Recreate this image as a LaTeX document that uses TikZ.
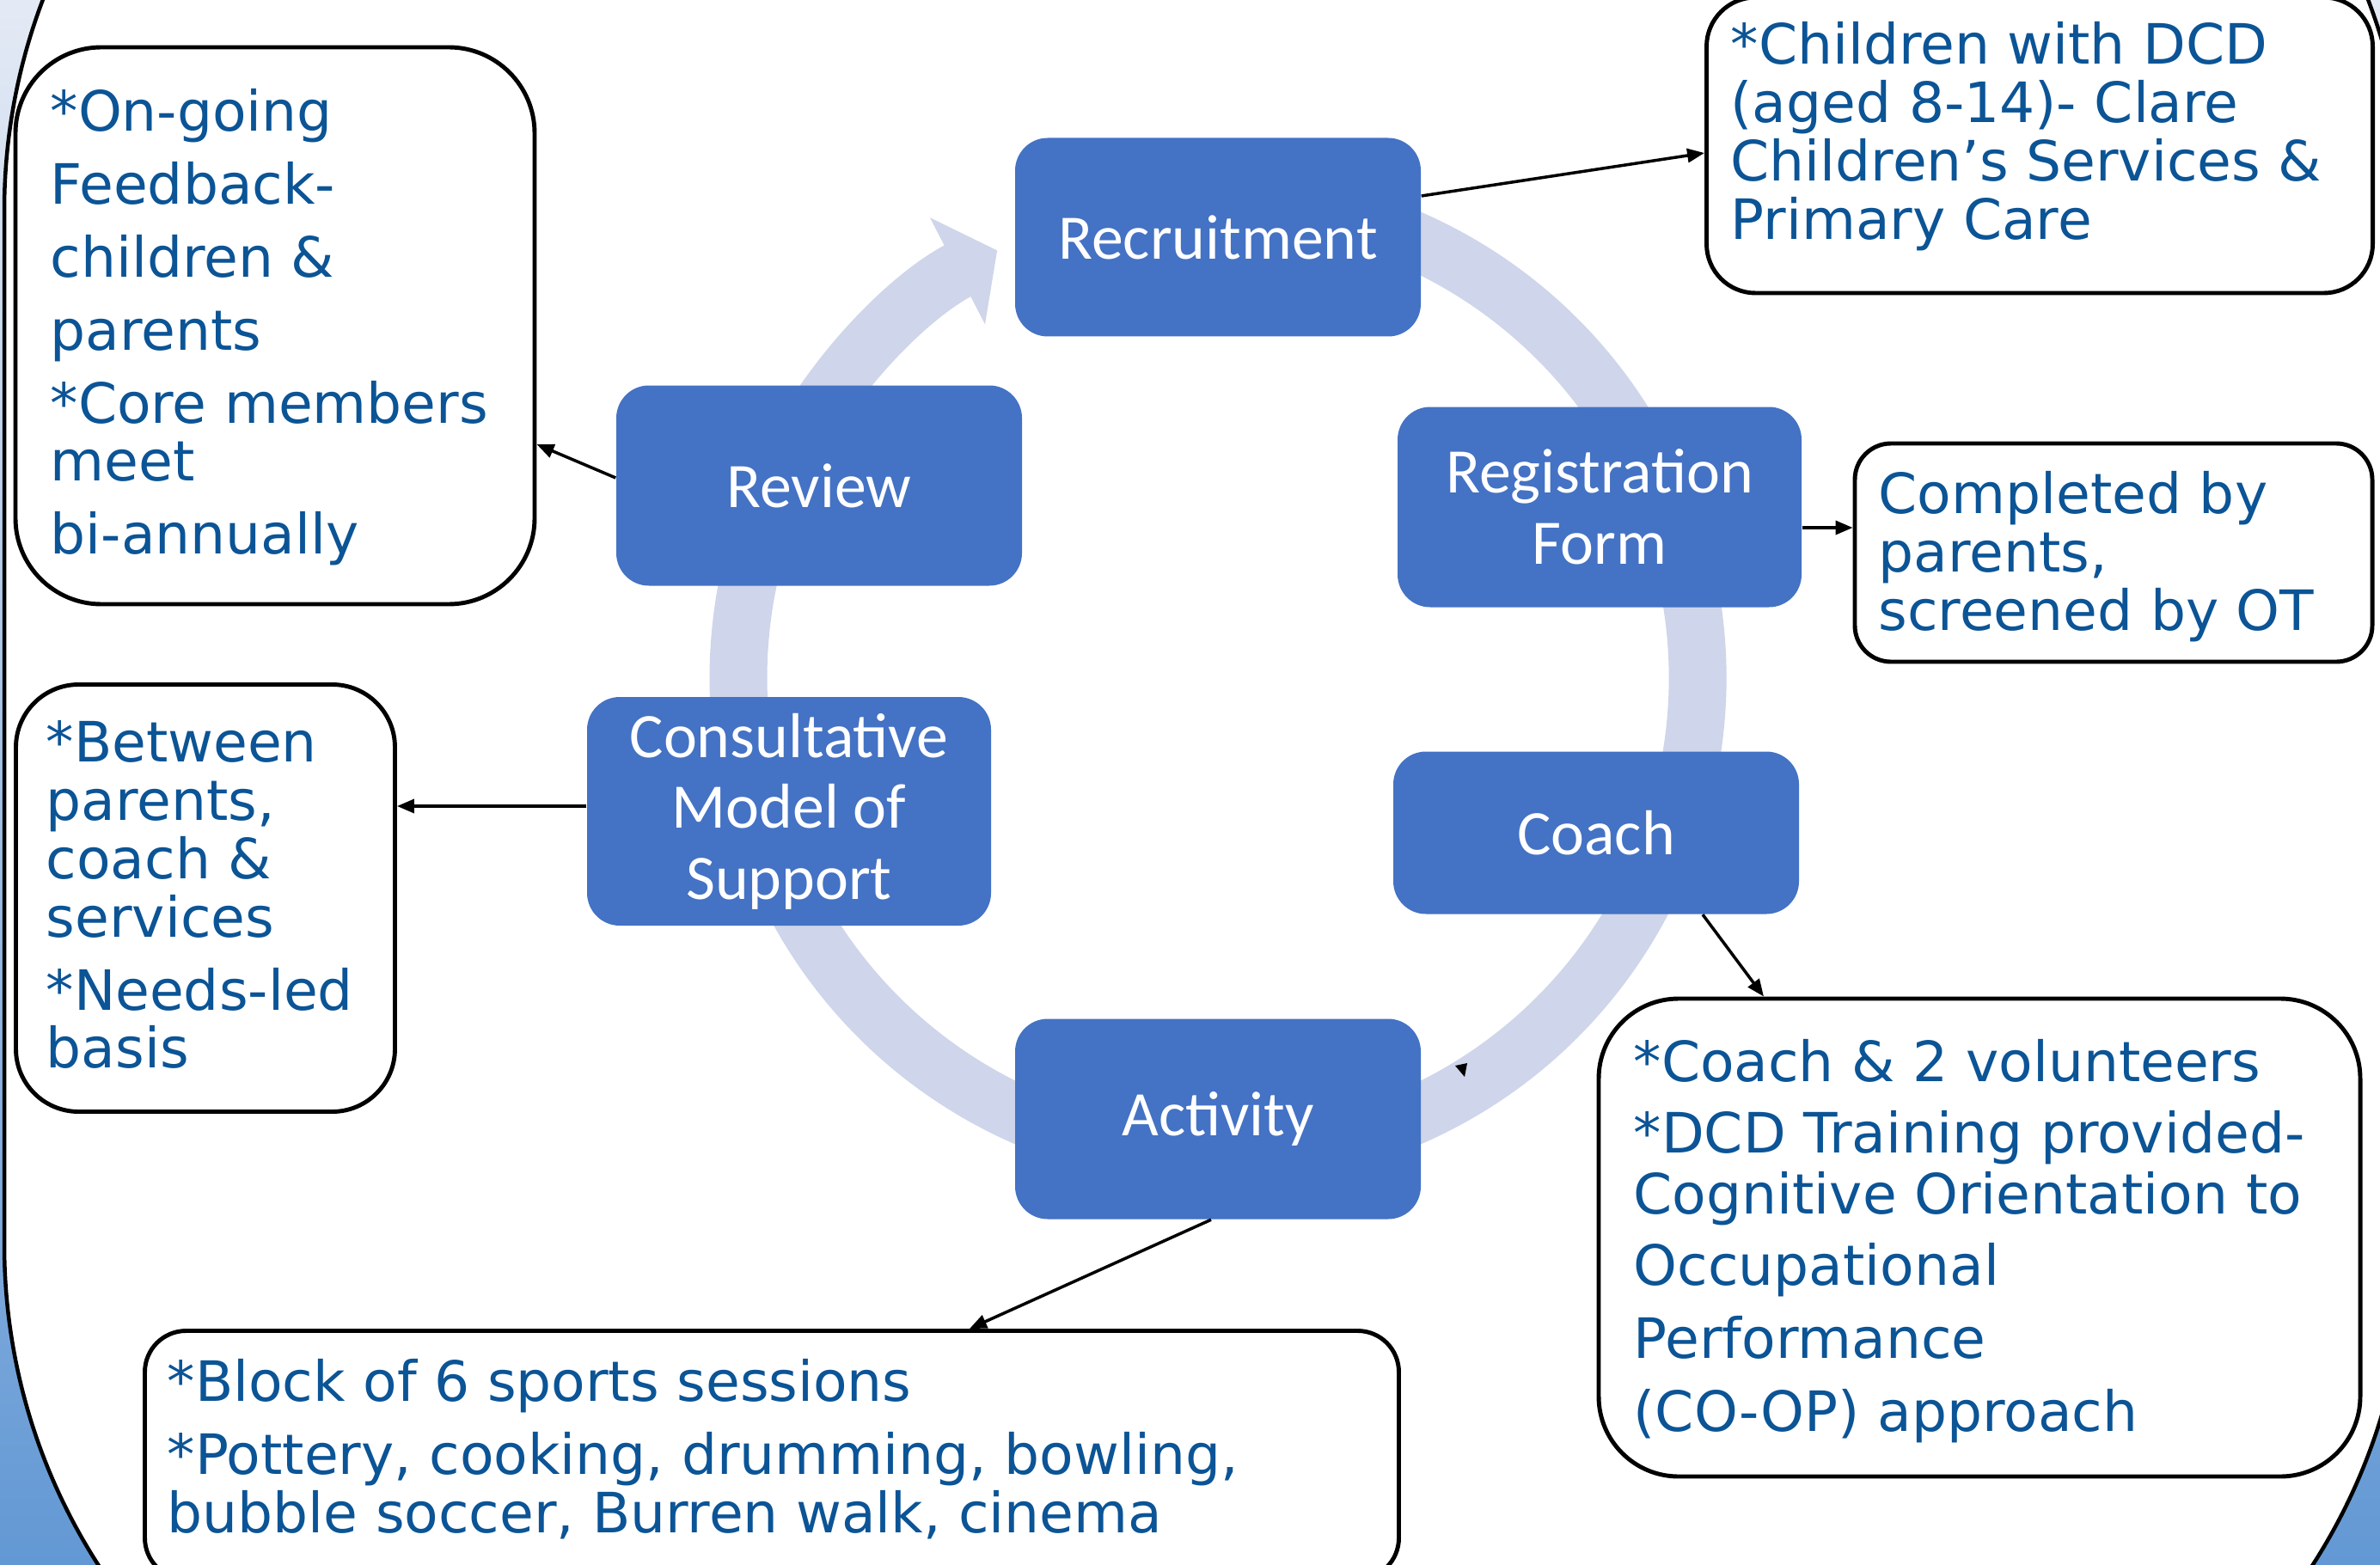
\documentclass[tikz,border=0pt]{standalone}
\usepackage{fontspec}
\setmainfont{DejaVu Sans}
\newfontfamily\calibri{Carlito}
\usetikzlibrary{arrows.meta}
\definecolor{azulcaixa}{RGB}{68,114,196}
\definecolor{azultexto}{RGB}{11,84,150}
\definecolor{anelcor}{RGB}{207,213,234}
\definecolor{fundotopo}{RGB}{228,234,245}
\definecolor{fundobase}{RGB}{98,152,212}
\begin{document}
\begin{tikzpicture}[
		etapa/.style={fill=azulcaixa, rounded corners=0.38cm, inner sep=0pt, text=white, align=center, font=\calibri\fontsize{21}{23.5}\selectfont},
		nota/.style={draw, line width=1.4pt, fill=white, rounded corners=#1},
		texto/.style={anchor=north west, inner sep=0pt, align=left, text=azultexto, font=\fontsize{18.4}{19.3}\selectfont},
		seta/.style={-{Triangle[length=2mm,width=1.6mm]}, line width=1pt},
		anel/.style={draw=anelcor, line width=0.67cm}] %Estilos
					\useasboundingbox (0,0) rectangle (27.69,18.20);
					\clip (0,0) rectangle (27.69,18.20);
						%Fundo e moldura
					\shade[top color=fundotopo, bottom color=fundobase] (0,0) rectangle (27.69,18.20);
					\draw[line width=0.045cm, fill=white, rounded corners=6.9cm] (0.05,-3.18) rectangle (28.00,22.65);
						%Anel do ciclo
					\draw[anel] (14.17,10.31) ++(112:5.58) arc[start angle=112, end angle=-210, radius=5.58];
					\draw[anel, -{Triangle[length=0.52cm,width=1.37cm]}] (14.17,10.31) ++(150:5.60) arc[start angle=150, end angle=117.3, radius=5.60];
					\fill (16.93,5.80) -- (17.07,5.83) -- (17.04,5.67) -- cycle; %Ponta solta
						%Etapas
					\node[etapa, minimum width=4.72cm, minimum height=2.31cm] (rec) at (14.17,15.44) {Recruitment};
					\node[etapa, minimum width=4.70cm, minimum height=2.33cm] (reg) at (18.61,12.30) {Registration\\Form};
					\node[etapa, minimum width=4.72cm, minimum height=1.89cm] (coach) at (18.57,8.51) {Coach};
					\node[etapa, minimum width=4.72cm, minimum height=2.33cm] (act) at (14.17,5.18) {Activity};
					\node[etapa, minimum width=4.70cm, minimum height=2.66cm] (cons) at (9.18,8.76) {Consultative\\Model of\\Support};
					\node[etapa, minimum width=4.72cm, minimum height=2.33cm] (rev) at (9.53,12.55) {Review};
						%Notas
					\node[nota=1cm, minimum width=6.04cm, minimum height=6.48cm] (notaRev) at (3.20,14.41) {};
					\node[nota=0.57cm, minimum width=7.75cm, minimum height=3.44cm] (notaRec) at (23.73,16.51) {};
					\node[nota=0.42cm, minimum width=6.02cm, minimum height=2.54cm] (notaReg) at (24.59,11.77) {};
					\node[nota=0.93cm, minimum width=8.86cm, minimum height=5.56cm] (notaCoach) at (23.03,3.80) {};
					\node[nota=0.48cm, minimum width=14.59cm, minimum height=2.89cm] (notaAct) at (8.98,1.27) {};
					\node[nota=0.73cm, minimum width=4.41cm, minimum height=4.97cm] (notaCons) at (2.39,7.75) {};
						%Textos
					\node[texto] (tRev) at (0.58,17.17) {*On-going\\[0.17cm]Feedback-\\[0.17cm]children \&\\[0.17cm]parents\\[0.17cm]*Core members\\meet\\[0.17cm]bi-annually};
					\node[texto] (tRec) at (20.13,17.95) {*Children with DCD\\(aged 8-14)- Clare\\Children’s Services \&\\Primary Care};
					\node[texto] (tReg) at (21.85,12.72) {Completed by\\parents,\\screened by OT};
					\node[texto] (tCoach) at (19.00,6.11) {*Coach \& 2 volunteers\\[0.15cm]*DCD Training provided-\\[0.03cm]Cognitive Orientation to\\[0.15cm]Occupational\\[0.17cm]Performance\\[0.17cm](CO-OP) approach};
					\node[texto] (tAct) at (1.94,2.39) {*Block of 6 sports sessions\\[0.17cm]*Pottery, cooking, drumming, bowling,\\bubble soccer, Burren walk, cinema};
					\node[texto] (tCons) at (0.53,9.82) {*Between\\parents,\\coach \&\\services\\[0.17cm]*Needs-led\\basis};
						%Setas
					\draw[seta] ([yshift=0.48cm]rec.east) -- ([yshift=-0.09cm]notaRec.west);
					\draw[seta] ([yshift=-0.24cm]reg.east) -- ([yshift=-0.24cm]reg.east -| notaReg.west);
					\draw[seta] ([xshift=1.24cm]coach.south) -- ([xshift=-2.51cm]notaCoach.north);
					\draw[seta] ([xshift=-0.08cm]act.south) -- ([xshift=2.30cm]notaAct.north);
					\draw[seta] ([yshift=0.06cm]cons.west) -- ([yshift=0.06cm]cons.west -| notaCons.east);
					\draw[seta] ([yshift=0.09cm]rev.west) -- ([yshift=-1.38cm]notaRev.east);
				\end{tikzpicture}
\end{document}
